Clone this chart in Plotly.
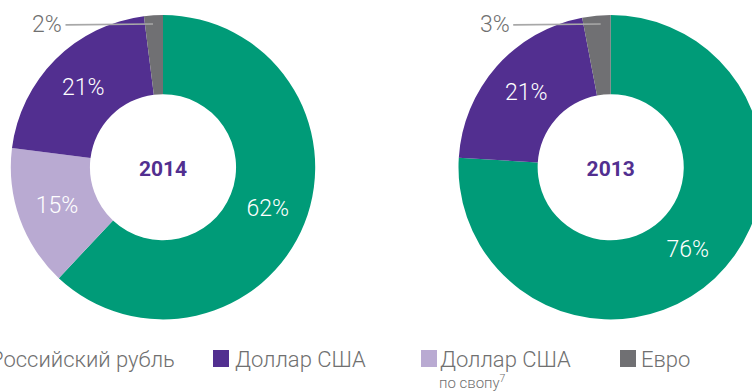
import plotly.graph_objects as go

# Currency structure of the portfolio, percent
categories = ["Российский рубль", "Доллар США", "Доллар США по свопу", "Евро"]
share_2014 = [62, 21, 15, 2]
share_2013 = [76, 21, 0, 3]
years = ["2014", "2013"]

# clockwise slice order starting at 12 o'clock
slice_order = [0, 2, 1, 3]
colors = {
    "Российский рубль": "#009B78",
    "Доллар США": "#522F90",
    "Доллар США по свопу": "#B9AAD2",
    "Евро": "#707073",
}
legend_text = {
    "Российский рубль": "Российский рубль",
    "Доллар США": "Доллар США",
    "Доллар США по свопу": "Доллар США",
    "Евро": "Евро",
}

W, H = 770, 392
FONT = "Roboto, 'Liberation Sans', sans-serif"
GREY_TEXT = "#707070"


def px(x):
    return x / W


def py(y):
    return 1 - y / H


fig = go.Figure()

centers = [163.0, 610.7]
cy, R = 167.2, 152.2
annotations = []

for year, shares, cx in zip(years, [share_2014, share_2013], centers):
    labs, vals = [], []
    for i in slice_order:
        if shares[i] > 0:
            labs.append(categories[i])
            vals.append(shares[i])
    texts = [f"{v}%" if v >= 5 else "" for v in vals]
    fig.add_trace(go.Pie(
        labels=labs,
        values=vals,
        text=texts,
        textinfo="text",
        textposition="inside",
        insidetextorientation="horizontal",
        insidetextfont=dict(family=FONT, size=23, color="white", weight=300),
        hole=0.48,
        sort=False,
        direction="clockwise",
        rotation=0,
        marker=dict(colors=[colors[l] for l in labs], line=dict(width=0)),
        domain=dict(x=[px(cx - R), px(cx + R)], y=[py(cy + R), py(cy - R)]),
        title=dict(text=f"<b>{year}</b>", position="middle center",
                   font=dict(family=FONT, size=21, color="#522F90")),
        showlegend=False,
        hoverinfo="label+percent",
    ))
    # small slice labelled outside with a leader line
    for l, v in zip(labs, vals):
        if v < 5:
            annotations.append(dict(
                x=px(cx - 10), y=py(24), xref="paper", yref="paper",
                text=f"{v}%", showarrow=True, arrowhead=0, arrowwidth=1.6,
                arrowcolor="#A8A8A8", ax=-106, ay=1, borderpad=3,
                font=dict(family=FONT, size=23, color=GREY_TEXT, weight=300),
            ))

# legend row
legend_items = [
    ("Российский рубль", -33, -12),
    ("Доллар США", 213, 233),
    ("Доллар США по свопу", 421, 438),
    ("Евро", 620, 639),
]
shapes = []
for name, sq_x, tx in legend_items:
    shapes.append(dict(type="rect", xref="paper", yref="paper",
                       x0=px(sq_x), x1=px(sq_x + 16), y0=py(367), y1=py(350),
                       fillcolor=colors[name], line=dict(width=0)))
    annotations.append(dict(x=px(tx), y=py(359), xref="paper", yref="paper",
                            text=legend_text[name], showarrow=False,
                            xanchor="left", yanchor="middle",
                            font=dict(family=FONT, size=22, color=GREY_TEXT, weight=300)))
annotations.append(dict(x=px(437), y=py(382), xref="paper", yref="paper",
                        text="по свопу<sup>7</sup>", showarrow=False,
                        xanchor="left", yanchor="middle",
                        font=dict(family=FONT, size=15, color=GREY_TEXT, weight=300)))

fig.update_layout(
    width=W, height=H,
    margin=dict(l=0, r=0, t=0, b=0),
    paper_bgcolor="white",
    plot_bgcolor="white",
    shapes=shapes,
    annotations=annotations,
)

fig.write_html(
    "out.html",
    config={"displayModeBar": False},
    post_script="document.body.style.margin='0';document.body.style.overflow='hidden';",
)
